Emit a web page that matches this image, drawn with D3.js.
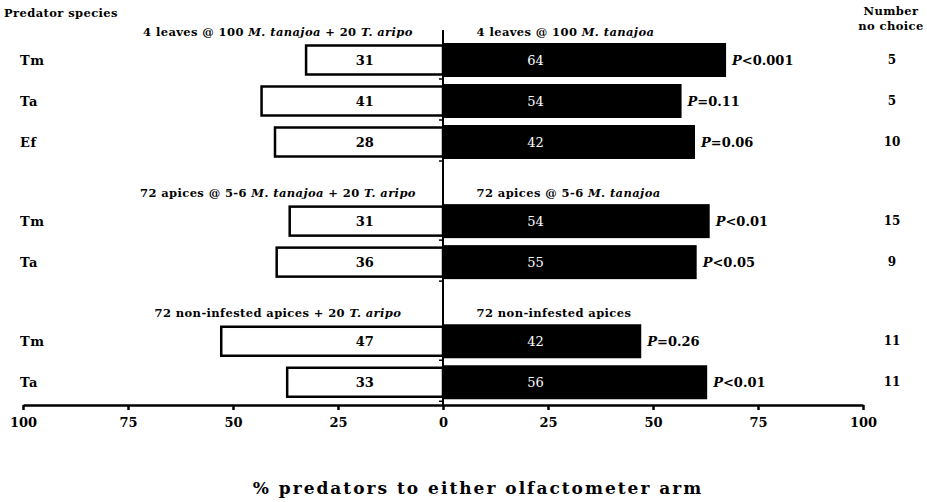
<!DOCTYPE html>
<html>
<head>
<meta charset="utf-8">
<script src="https://cdn.jsdelivr.net/npm/d3@7"></script>
<style>
  html, body { margin: 0; padding: 0; background: #fff; }
  svg { display: block; }
  text { font-family: "DejaVu Serif", "Liberation Serif", serif; font-weight: bold; fill: #000; }
</style>
</head>
<body>
<svg id="chart" width="927" height="502"></svg>
<script>
// ---- data ----
const species    = ["Tm", "Ta", "Ef", "Tm", "Ta", "Tm", "Ta"];
const groupOf    = [0, 0, 0, 1, 1, 2, 2];
const countLeft  = [31, 41, 28, 31, 36, 47, 33];
const countRight = [64, 54, 42, 54, 55, 42, 56];
const pctLeft    = [32.6, 43.2, 40.0, 36.5, 39.6, 52.8, 37.1];
const pctRight   = [67.4, 56.8, 60.0, 63.5, 60.4, 47.2, 62.9];
const pLabels    = ["<0.001", "=0.11", "=0.06", "<0.01", "<0.05", "=0.26", "<0.01"];
const noChoice   = [5, 5, 10, 15, 9, 11, 11];
const tickValues = [-100, -75, -50, -25, 0, 25, 50, 75, 100];
const groupLabelsLeft = [
  [["4 leaves @ 100 ", false], ["M. tanajoa", true], [" + 20 ", false], ["T. aripo", true]],
  [["72 apices @ 5-6 ", false], ["M. tanajoa", true], [" + 20 ", false], ["T. aripo", true]],
  [["72 non-infested apices + 20 ", false], ["T. aripo", true]]
];
const groupLabelsRight = [
  [["4 leaves @ 100 ", false], ["M. tanajoa", true]],
  [["72 apices @ 5-6 ", false], ["M. tanajoa", true]],
  [["72 non-infested apices", false]]
];
const xTitle = "% predators to either olfactometer arm";

// ---- layout ----
const svg = d3.select("#chart");
const x = d3.scaleLinear().domain([-100, 100]).range([23, 863]);
const slotGap = 0.93;
const slot = i => i + groupOf[i] * slotGap;
const y = d3.scaleLinear().domain([0, 1]).range([60, 101]);
const axisY = 405;
const rows = d3.range(species.length);

// black bars (right)
svg.append("g").selectAll("rect").data(rows).join("rect")
  .attr("x", x(0))
  .attr("y", i => y(slot(i)) - 17)
  .attr("width", i => x(pctRight[i]) - x(0))
  .attr("height", 34)
  .attr("fill", "#000");

// white bars (left)
svg.append("g").selectAll("rect").data(rows).join("rect")
  .attr("x", i => x(-pctLeft[i]))
  .attr("y", i => y(slot(i)) - 14.5)
  .attr("width", i => x(0) - x(-pctLeft[i]))
  .attr("height", 29)
  .attr("fill", "#fff")
  .attr("stroke", "#000")
  .attr("stroke-width", 2.5);

// centre line
svg.append("line")
  .attr("x1", x(0)).attr("x2", x(0))
  .attr("y1", 30).attr("y2", axisY)
  .attr("stroke", "#000").attr("stroke-width", 2);

// counts in bars
svg.append("g").selectAll("text").data(rows).join("text")
  .attr("x", x(-18.6)).attr("y", i => y(slot(i)))
  .attr("dy", "0.35em").attr("text-anchor", "middle")
  .style("font-size", "13px")
  .text(i => countLeft[i]);
svg.append("g").selectAll("text").data(rows).join("text")
  .attr("x", x(22)).attr("y", i => y(slot(i)))
  .attr("dy", "0.35em").attr("text-anchor", "middle")
  .style("font-size", "13px").style("font-weight", "normal").style("fill", "#fff")
  .text(i => countRight[i]);

// P labels
const pg = svg.append("g").selectAll("text").data(rows).join("text")
  .attr("x", i => x(pctRight[i]) + 6).attr("y", i => y(slot(i)))
  .attr("dy", "0.35em").style("font-size", "13px");
pg.append("tspan").style("font-style", "italic").text("P");
pg.append("tspan").text(i => pLabels[i]);

// species labels
svg.append("g").selectAll("text").data(rows).join("text")
  .attr("x", 20).attr("y", i => y(slot(i)))
  .attr("dy", "0.35em").style("font-size", "13px").style("letter-spacing", "0.5px")
  .text(i => species[i]);

// number no choice
svg.append("g").selectAll("text").data(rows).join("text")
  .attr("x", 892).attr("y", i => y(slot(i)))
  .attr("dy", "0.35em").attr("text-anchor", "middle").style("font-size", "12px")
  .text(i => noChoice[i]);

// headers
const hdr = { "font-size": "11.5px", "letter-spacing": "0.4px" };
function styleHdr(t) { Object.entries(hdr).forEach(([k, v]) => t.style(k, v)); return t; }
styleHdr(svg.append("text").attr("x", 4).attr("y", 17)).text("Predator species");
styleHdr(svg.append("text").attr("x", 891).attr("y", 15).attr("text-anchor", "middle")).text("Number");
styleHdr(svg.append("text").attr("x", 891).attr("y", 30).attr("text-anchor", "middle")).text("no choice");

// group labels
const groupFirstRow = [0, 3, 5];
function richText(sel, segs) {
  segs.forEach(s => sel.append("tspan").style("font-style", s[1] ? "italic" : "normal").text(s[0]));
}
groupFirstRow.forEach((r, g) => {
  const gy = y(slot(r)) - 24;
  const tl = styleHdr(svg.append("text").attr("x", x(-39.3)).attr("y", gy)
    .attr("text-anchor", "middle"));
  richText(tl, groupLabelsLeft[g]);
  const tr = styleHdr(svg.append("text").attr("x", x(8)).attr("y", gy));
  richText(tr, groupLabelsRight[g]);
});

// minor ticks on centre line
svg.append("g").selectAll("line").data(rows).join("line")
  .attr("x1", x(0) - 4).attr("x2", x(0))
  .attr("y1", i => y(slot(i)) + 19).attr("y2", i => y(slot(i)) + 19)
  .attr("stroke", "#000").attr("stroke-width", 1.5);

// x axis
const axis = d3.axisBottom(x).tickValues(tickValues).tickFormat(d => Math.abs(d)).tickSize(5).tickSizeOuter(0);
const ag = svg.append("g").attr("transform", `translate(0,${axisY})`).call(axis);
ag.select(".domain").attr("stroke", "#000").attr("stroke-width", 2.5);
ag.selectAll(".tick line").attr("stroke", "#000").attr("stroke-width", 2.5);
ag.selectAll(".tick text")
  .attr("y", 13)
  .style("font-family", "'DejaVu Serif', serif").style("font-weight", "bold")
  .style("font-size", "13px").attr("fill", "#000");

// x title
svg.append("text").attr("x", x(0) + 35).attr("y", 494)
  .attr("text-anchor", "middle").style("font-size", "17px").style("letter-spacing", "2px")
  .text(xTitle);
</script>
</body>
</html>
